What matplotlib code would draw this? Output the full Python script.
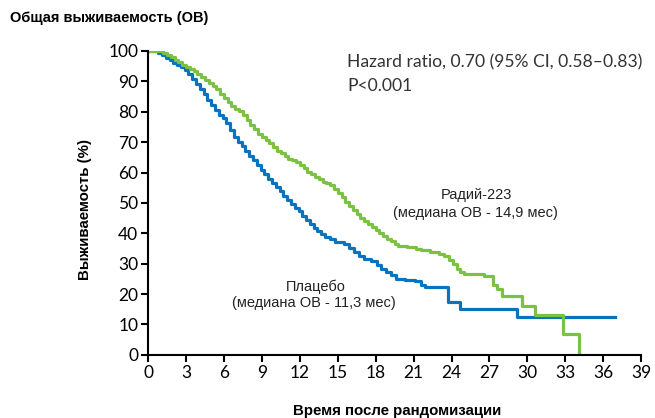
import matplotlib.pyplot as plt

# Kaplan-Meier curves (months, % alive)
radium_t = [0, 1.2, 1.5, 1.8, 2.1, 2.4, 2.7, 3.0, 3.3, 3.6, 3.9, 4.2, 4.5, 4.8, 5.1,
            5.4, 5.7, 6.0, 6.3, 6.6, 6.9, 7.2, 7.5, 7.8, 8.1, 8.4, 8.7, 9.0, 9.3,
            9.6, 9.9, 10.2, 10.5, 10.8, 11.1, 11.4, 11.7, 12.0, 12.3, 12.6, 12.9,
            13.2, 13.5, 13.8, 14.1, 14.4, 14.7, 15.0, 15.3, 15.6, 15.9, 16.2, 16.5,
            16.8, 17.1, 17.4, 17.7, 18.0, 18.3, 18.6, 18.9, 19.2, 19.5, 19.8, 20.5,
            21.2, 21.6, 22.3, 23.0, 23.4, 23.8, 24.1, 24.4, 24.7, 25.0, 26.6, 27.3,
            27.6, 28.0, 29.6, 30.6, 32.8, 34.1]
radium_s = [100, 99.3, 98.6, 97.9, 97.2, 96.5, 95.5, 94.8, 94.0, 93.3, 92.5, 91.6,
            90.6, 89.6, 88.6, 87.4, 86.0, 84.6, 83.3, 82.0, 81.0, 80.2, 79.0, 77.4,
            75.8, 74.2, 72.8, 71.6, 70.8, 69.8, 68.4, 67.2, 66.4, 65.4, 64.6, 64.0,
            63.4, 62.6, 61.4, 60.2, 59.4, 58.6, 57.8, 57.0, 56.4, 55.8, 54.6, 53.2,
            51.8, 50.4, 49.0, 47.6, 46.4, 45.2, 44.0, 43.0, 42.0, 41.0, 40.0, 39.0,
            38.2, 37.4, 36.6, 35.8, 35.4, 35.0, 34.4, 34.0, 33.2, 32.4, 31.2, 29.8,
            28.4, 27.4, 26.6, 26.0, 23.0, 21.6, 19.4, 16.0, 13.2, 6.9, 0]

placebo_t = [0, 0.8, 1.1, 1.4, 1.7, 2.0, 2.3, 2.6, 2.9, 3.2, 3.5, 3.8, 4.1, 4.4, 4.7,
             5.0, 5.3, 5.6, 5.9, 6.2, 6.5, 6.8, 7.1, 7.4, 7.7, 8.0, 8.3, 8.6, 8.9,
             9.2, 9.5, 9.8, 10.1, 10.4, 10.7, 11.0, 11.3, 11.6, 11.9, 12.2, 12.5,
             12.8, 13.1, 13.4, 13.7, 14.0, 14.4, 14.8, 15.5, 15.9, 16.3, 16.7, 17.1,
             17.6, 18.1, 18.4, 18.8, 19.2, 19.6, 20.3, 21.1, 21.6, 21.9, 23.7, 24.7,
             29.2, 36.9]
placebo_s = [100, 99.3, 98.6, 97.8, 97.0, 96.2, 95.4, 94.6, 93.6, 92.4, 90.8, 89.0,
             87.4, 85.8, 84.0, 82.2, 80.6, 79.0, 77.8, 76.2, 74.0, 71.8, 70.0, 68.6,
             67.0, 65.6, 64.0, 62.6, 61.0, 59.4, 58.0, 56.6, 55.2, 53.8, 52.4, 51.0,
             49.6, 48.4, 47.2, 45.8, 44.4, 43.0, 41.8, 40.8, 39.8, 38.8, 38.0, 37.2,
             36.6, 35.2, 33.8, 32.4, 31.4, 30.8, 29.6, 28.4, 27.4, 26.2, 25.0, 24.6,
             24.2, 23.0, 22.2, 17.5, 15.0, 12.6, 12.6]

x_ticks = list(range(0, 40, 3))
y_ticks = list(range(0, 101, 10))

fig = plt.figure(figsize=(6.55, 4.18), dpi=100)
ax = fig.add_axes([0.226, 0.151, 0.753, 0.727])

ax.step(placebo_t, placebo_s, where='post', color='#0a73bd', lw=2.3)
ax.step(radium_t, radium_s, where='post', color='#7cc242', lw=2.3)

ax.set_xlim(0, 39)
ax.set_ylim(0, 100)
ax.set_xticks(x_ticks)
ax.set_yticks(y_ticks)
for s in ['top', 'right']:
    ax.spines[s].set_visible(False)
for s in ['left', 'bottom']:
    ax.spines[s].set_linewidth(1.5)
ax.tick_params(direction='out', length=5, width=1.5, labelsize=12.5, pad=2)
for lab in ax.get_xticklabels() + ax.get_yticklabels():
    lab.set_family(['Lato', 'DejaVu Sans'])

hr_font = ['Lato', 'DejaVu Sans']
ax.text(15.75, 94.7, 'Hazard ratio, 0.70 (95% CI, 0.58\u20130.83)', fontsize=12.6,
        family=hr_font, ha='left', va='baseline', color='#333333')
ax.text(15.75, 86.8, 'P<0.001', fontsize=12.6, family=hr_font, ha='left', va='baseline',
        color='#333333')

arial = ['Liberation Sans', 'DejaVu Sans']
ax.text(25.95, 52.6, 'Радий-223', fontsize=10.5, family=arial, ha='center', va='center', color='#222222')
ax.text(25.9, 46.7, '(медиана ОВ - 14,9 мес)', fontsize=10.5, family=arial, ha='center', va='center',
        color='#222222')
ax.text(13.3, 22.5, 'Плацебо', fontsize=10.5, family=arial, ha='center', va='center', color='#222222')
ax.text(13.1, 17.0, '(медиана ОВ - 11,3 мес)', fontsize=10.5, family=arial, ha='center', va='center',
        color='#222222')

fig.text(10 / 655, 1 - 18 / 418, 'Общая выживаемость (ОВ)', fontsize=10.5, fontweight='bold',
         family=arial, ha='left', va='center')
fig.text(85 / 655, 1 - 210 / 418, 'Выживаемость (%)', fontsize=10.8, fontweight='bold',
         family=arial, rotation=90, ha='center', va='center')
fig.text(397 / 655, 1 - 411 / 418, 'Время после рандомизации', fontsize=10.8, fontweight='bold',
         family=arial, ha='center', va='center')

fig.savefig('out.png', dpi=100)
